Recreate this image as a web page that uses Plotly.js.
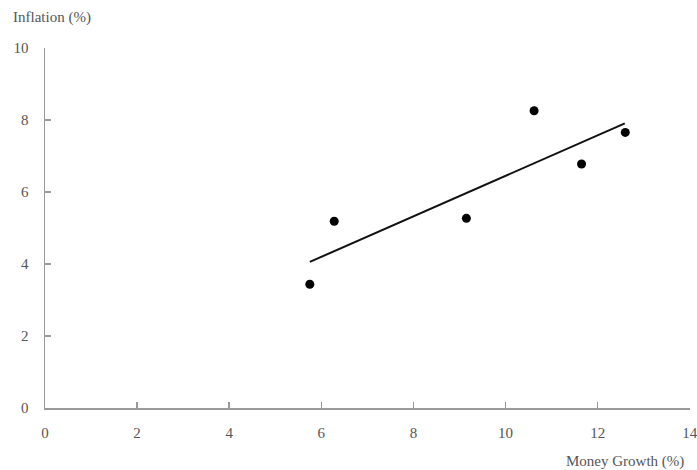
<!DOCTYPE html>
<html>
<head>
<meta charset="utf-8">
<script src="https://cdn.plot.ly/plotly-3.0.1.min.js"></script>
<style>html,body{margin:0;padding:0;background:#fff;}#chart{width:697px;height:470px;}</style>
</head>
<body>
<div id="chart"></div>
<script>
// Observations: money growth (%) vs inflation (%)
const moneyGrowth = [5.75, 6.28, 9.15, 10.62, 11.65, 12.6];
const inflation = [3.44, 5.19, 5.27, 8.26, 6.78, 7.66];
// Fitted line end points
const fitX = [5.75, 12.59];
const fitY = [4.06, 7.91];
const xTicks = [0, 2, 4, 6, 8, 10, 12, 14];
const yTicks = [0, 2, 4, 6, 8, 10];
const xTitle = 'Money Growth (%)';
const yTitle = 'Inflation (%)';

const font = {family: '"Liberation Serif", "Times New Roman", serif', size: 15, color: '#555'};

const traces = [
  {x: fitX, y: fitY, mode: 'lines', line: {color: '#111', width: 2}, hoverinfo: 'skip'},
  {x: moneyGrowth, y: inflation, mode: 'markers', marker: {color: '#000', size: 9}}
];

const layout = {
  width: 697, height: 470,
  margin: {l: 45, r: 7, t: 48, b: 62},
  paper_bgcolor: '#fff', plot_bgcolor: '#fff',
  showlegend: false,
  font: font,
  xaxis: {
    range: [0, 14.005], tickvals: xTicks, ticktext: xTicks.map(String),
    showgrid: false, zeroline: false, showline: true, linecolor: '#999', linewidth: 1.5,
    ticks: 'inside', ticklen: 6, tickcolor: '#999', tickwidth: 1.5,
    ticklabelstandoff: 10, ticklabeloverflow: 'allow', tickfont: font
  },
  yaxis: {
    range: [0, 10.005], tickvals: yTicks, ticktext: yTicks.map(String),
    showgrid: false, zeroline: false, showline: true, linecolor: '#999', linewidth: 1.5,
    ticks: 'inside', ticklen: 6, tickcolor: '#999', tickwidth: 1.5,
    ticklabelstandoff: 12, ticklabeloverflow: 'allow', tickfont: font
  },
  annotations: [
    {text: yTitle, xref: 'paper', yref: 'paper', x: -0.052, y: 1, xanchor: 'left', yanchor: 'bottom', yshift: 20, showarrow: false, font: font},
    {text: xTitle, xref: 'paper', yref: 'paper', x: 1, y: 0, xanchor: 'right', yanchor: 'top', yshift: -43, xshift: -4, showarrow: false, font: font}
  ]
};

Plotly.newPlot('chart', traces, layout, {displayModeBar: false, staticPlot: true});
</script>
</body>
</html>
